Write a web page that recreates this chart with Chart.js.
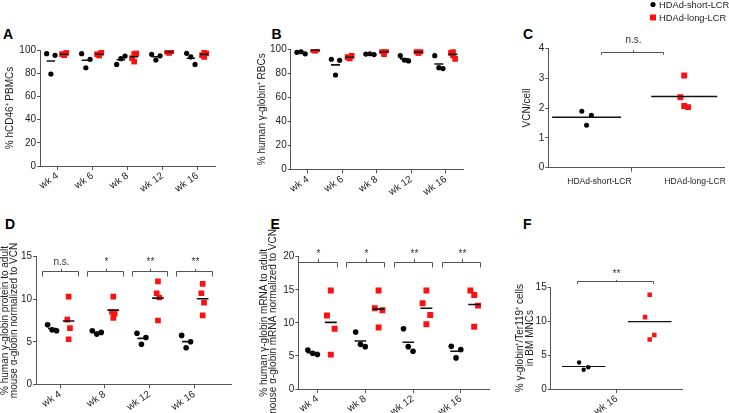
<!DOCTYPE html>
<html>
<head>
<meta charset="utf-8">
<script src="https://cdn.jsdelivr.net/npm/chart.js@4.4.0/dist/chart.umd.min.js"></script>
<style>
body { margin: 0; background: #fff; width: 729px; height: 413px; position: relative; overflow: hidden; font-family: "Liberation Sans", Arial, sans-serif; }
canvas { position: absolute; }
.tag { position: absolute; font: bold 14px "Liberation Sans", Arial, sans-serif; line-height: 1; color: #000; }
</style>
</head>
<body>
<div class="tag" style="left:3px;top:26.5px">A</div>
<div class="tag" style="left:271.5px;top:26.5px">B</div>
<div class="tag" style="left:523px;top:26.5px">C</div>
<div class="tag" style="left:5px;top:216.5px">D</div>
<div class="tag" style="left:270.5px;top:216.5px">E</div>
<div class="tag" style="left:523px;top:216.5px">F</div>
<canvas id="pA"></canvas>
<canvas id="pB"></canvas>
<canvas id="pC"></canvas>
<canvas id="pD"></canvas>
<canvas id="pE"></canvas>
<canvas id="pF"></canvas>
<script>
// categories
const weeks5 = ['wk 4', 'wk 6', 'wk 8', 'wk 12', 'wk 16'];
const weeks4 = ['wk 4', 'wk 8', 'wk 12', 'wk 16'];
const vectors = ['HDAd-short-LCR', 'HDAd-long-LCR'];

// A - % hCD46+ PBMCs (one inner array per week)
const pbmcShort = [[96.8, 95.4, 79.3], [96.8, 92.0, 84.7], [87.6, 94.8, 92.5], [96.3, 95.0, 91.4], [97.1, 87.6, 94.0]];
const pbmcLong = [[95.5, 96.5, 97.5, 95.8], [95.2, 96.4, 97.6, 96.0], [90.0, 93.0, 97.0, 96.5], [97.5, 98.5, 99.0, 98.0], [94.0, 95.5, 97.0, 98.5]];

// B - % human gamma-globin+ RBCs
const rbcShort = [[97.5, 96.2, 98.0], [91.7, 90.8, 78.6], [96.0, 95.6, 96.3], [94.7, 90.3, 91.0], [94.7, 83.9, 84.7]];
const rbcLong = [[99.0, 99.5, 100, 98.8], [92.5, 93.5, 94.5, 92.8], [96.0, 98.5, 99.0, 97.5], [97.0, 98.0, 98.5, 97.2], [99.0, 97.0, 92.0, 95.0]];

// C - VCN/cell
const vcnShort = [1.89, 1.76, 1.42];
const vcnLong = [3.09, 2.36, 2.03, 2.07];

// D - gamma-globin protein
const protShort = [[7.0, 6.3, 6.4], [6.3, 6.1, 5.9], [6.0, 5.5, 4.7], [5.75, 5.0, 4.3]];
const protLong = [[10.3, 7.6, 6.6, 5.3], [10.3, 8.5, 8.3, 7.8], [12.1, 10.7, 10.2, 7.5], [11.8, 10.7, 9.6, 8.1]];

// E - gamma-globin mRNA
const mrnaShort = [[5.9, 5.2, 5.4], [8.6, 6.4, 6.75], [9.1, 5.7, 6.4], [6.45, 5.95, 4.7]];
const mrnaLong = [[14.9, 11.1, 9.1, 5.2], [14.9, 12.2, 11.9, 9.3], [14.9, 12.95, 11.2, 9.8], [14.2, 14.9, 12.6, 9.4]];

// F - gamma-globin+/Ter119+ cells, wk 16
const terShort = [3.9, 3.2, 2.85];
const terLong = [13.9, 10.6, 7.96, 7.3];

// significance marks
const sigC = ['n.s.'];
const sigD = ['n.s.', '*', '**', '**'];
const sigE = ['*', '*', '**', '**'];
const sigF = ['**'];

const FONT = '"Liberation Sans", Arial, sans-serif';
const RED = '#ff1010';
const JIT3 = [-1, 1, 0];
const JIT4 = [0, -1, 1, 0];

function groupPoints(groups, offset, jit, pattern) {
    const pts = [];
    groups.forEach((vals, i) => {
        vals.forEach((v, k) => pts.push({x: i + offset + jit * pattern[k % pattern.length], y: v}));
    });
    return pts;
}

function meanSegments(groups, offset, half) {
    const pts = [];
    groups.forEach((vals, i) => {
        const m = vals.reduce((a, b) => a + b, 0) / vals.length;
        pts.push({x: i + offset - half, y: m}, {x: i + offset + half, y: m}, {x: i, y: null});
    });
    return pts;
}

// brackets with significance text, drawn through the scales
const bracketPlugin = {
    id: 'brackets',
    afterDatasetsDraw(chart, args, opts) {
        if (!opts.items || !opts.items.length) return;
        const {ctx, scales: {x, y}} = chart;
        ctx.save();
        ctx.strokeStyle = '#555';
        ctx.lineWidth = 1;
        ctx.fillStyle = '#333';
        ctx.font = '10px ' + FONT;
        ctx.textAlign = 'center';
        ctx.textBaseline = 'alphabetic';
        opts.items.forEach(b => {
            const x0 = Math.round(x.getPixelForValue(b.from)) + 0.5;
            const x1 = Math.round(x.getPixelForValue(b.to)) + 0.5;
            const xm = Math.round((x0 + x1) / 2) + 0.5;
            const yl = Math.round(y.getPixelForValue(b.y)) + 0.5;
            ctx.beginPath();
            ctx.moveTo(x0, yl + opts.drop);
            ctx.lineTo(x0, yl);
            ctx.lineTo(x1, yl);
            ctx.lineTo(x1, yl + opts.drop);
            ctx.moveTo(xm, yl);
            ctx.lineTo(xm, yl - opts.rise);
            ctx.stroke();
            ctx.fillText(b.text, xm, yl - opts.gap);
        });
        ctx.restore();
    }
};

// legend in the top right corner (panel C canvas)
const cornerLegend = {
    id: 'cornerLegend',
    afterDraw(chart, args, opts) {
        if (!opts.show) return;
        const ctx = chart.ctx;
        ctx.save();
        ctx.font = '9.3px ' + FONT;
        ctx.textBaseline = 'middle';
        ctx.fillStyle = '#000';
        ctx.beginPath();
        ctx.arc(opts.x, opts.y, 2.6, 0, Math.PI * 2);
        ctx.fill();
        ctx.fillStyle = '#222';
        ctx.fillText(vectors[0], opts.x + 6, opts.y + 0.5);
        ctx.fillStyle = RED;
        ctx.fillRect(opts.x - 3, opts.y + opts.step - 3, 6, 6);
        ctx.fillStyle = '#222';
        ctx.fillText(vectors[1], opts.x + 6, opts.y + opts.step + 0.5);
        ctx.restore();
    }
};

// box = canvas [left, top, right, bottom], area = plot area in page pixels
const panels = [
    {id: 'pA', box: [0, 36, 225, 200], area: [40, 50, 215, 166], titlePad: 5.25,
     title: '% hCD46⁺ PBMCs', short: pbmcShort, long: pbmcLong, labels: weeks5, ticks: [0, 1, 2, 3, 4],
     xMin: -0.5, xMax: 4.5, yMax: 100, yStep: 20, offB: -0.19, offR: 0.19, hwB: 0.12, hwR: 0.12,
     jitB: 0.12, jitR: 0.06, rB: 2.6, rR: 4.0, lw: 1.6, rot: 35},
    {id: 'pB', box: [255, 36, 470, 200], area: [290.7, 49.3, 463, 169.3], titlePad: 2.95,
     title: '% human γ-globin⁺ RBCs', short: rbcShort, long: rbcLong, labels: weeks5, ticks: [0, 1, 2, 3, 4],
     xMin: -0.5, xMax: 4.5, yMax: 100, yStep: 20, offB: -0.2, offR: 0.21, hwB: 0.13, hwR: 0.13,
     jitB: 0.12, jitR: 0.06, rB: 2.6, rR: 4.0, lw: 1.6, rot: 35},
    {id: 'pC', box: [515, 0, 729, 200], area: [548.3, 48.3, 729, 167.7], titlePad: 7.55,
     title: 'VCN/cell', short: [vcnShort], long: [vcnLong], labels: [vectors[0], '', vectors[1]], ticks: [0, 0.44, 1],
     xMin: -0.43, xMax: 1.414, yMax: 4, yStep: 1, offB: -0.03, offR: 0.99, hwB: 0.36, hwR: 0.345,
     jitB: 0.05, jitR: 0.04, rB: 2.5, rR: 4.2, lw: 1.5, rot: 0, labelOffset: 10, labelFont: 8.5,
     hideTick: [true, false, true],
     brackets: {items: [{from: 0.12, to: 0.77, y: 3.89, text: sigC[0]}], drop: 2.3, rise: 2.4, gap: 10},
     legend: {show: true, x: 138, y: 4.5, step: 13}},
    {id: 'pD', box: [0, 226, 240, 413], area: [36, 256.7, 231.7, 384.3], titlePad: 0,
     title: ['% human γ-globin protein to adult', 'mouse α-globin normalized to VCN'],
     short: protShort, long: protLong, labels: weeks4, ticks: [0, 1, 2, 3],
     xMin: -0.54, xMax: 3.84, yMax: 15, yStep: 5, offB: -0.18, offR: 0.19, hwB: 0.09, hwR: 0.13,
     jitB: 0.1, jitR: 0.03, rB: 2.8, rR: 4.0, lw: 1.6, rot: 35,
     brackets: {items: weeks4.map((w, i) => ({from: i - 0.4, to: i + 0.4, y: 13.3, text: sigD[i]})), drop: 5, rise: 2.7, gap: 7}},
    {id: 'pE', box: [255, 226, 495, 413], area: [298.3, 256.7, 489.5, 389], titlePad: 4.25,
     title: ['% human γ-globin mRNA to adult', 'mouse α-globin mRNA normalized to VCN'],
     short: mrnaShort, long: mrnaLong, labels: weeks4, ticks: [0, 1, 2, 3],
     xMin: -0.4, xMax: 3.6, yMax: 20, yStep: 5, offB: -0.1, offR: 0.28, hwB: 0.12, hwR: 0.125,
     jitB: 0.1, jitR: 0.08, rB: 2.8, rR: 4.2, lw: 1.6, rot: 35,
     brackets: {items: weeks4.map((w, i) => ({from: i - 0.4, to: i + 0.4, y: 19.25, text: sigE[i]})), drop: 5, rise: 3.4, gap: 6}},
    {id: 'pF', box: [510, 226, 729, 413], area: [550.7, 287.3, 682.7, 389], titlePad: 5.95,
     title: ['% γ-globin⁺/Ter119⁺ cells', 'in BM MNCs'],
     short: [terShort], long: [terLong], labels: ['wk 16'], ticks: [0],
     xMin: -1, xMax: 1, yMax: 15, yStep: 5, offB: -0.5, offR: 0.5, hwB: 0.33, hwR: 0.33,
     jitB: 0.07, jitR: 0.07, rB: 2.2, rR: 3.2, lw: 1.2, rot: 35,
     brackets: {items: [{from: -0.6, to: 0.55, y: 16.0, text: sigF[0]}], drop: 2.4, rise: 1.6, gap: 5}}
];

panels.forEach(p => {
    const [bl, bt, br, bb] = p.box;
    const [al, at, ar, ab] = p.area;
    const cv = document.getElementById(p.id);
    cv.width = br - bl;
    cv.height = bb - bt;
    cv.style.left = bl + 'px';
    cv.style.top = bt + 'px';

    new Chart(cv, {
        type: 'scatter',
        data: {
            datasets: [
                {data: meanSegments(p.short, p.offB, p.hwB), showLine: true, spanGaps: false,
                 borderColor: '#111', borderWidth: p.lw, pointRadius: 0},
                {data: meanSegments(p.long, p.offR, p.hwR), showLine: true, spanGaps: false,
                 borderColor: '#111', borderWidth: p.lw, pointRadius: 0},
                {label: vectors[0], data: groupPoints(p.short, p.offB, p.jitB, JIT3),
                 pointStyle: 'circle', pointRadius: p.rB, backgroundColor: '#000', borderWidth: 0},
                {label: vectors[1], data: groupPoints(p.long, p.offR, p.jitR, JIT4),
                 pointStyle: 'rect', pointRadius: p.rR, backgroundColor: RED, borderWidth: 0}
            ]
        },
        options: {
            responsive: false,
            animation: false,
            events: [],
            layout: {padding: {left: 0, top: at - bt, right: br - ar, bottom: 0}},
            plugins: {
                legend: {display: false},
                tooltip: {enabled: false},
                brackets: p.brackets || {},
                cornerLegend: p.legend || {}
            },
            scales: {
                x: {
                    type: 'linear',
                    min: p.xMin,
                    max: p.xMax,
                    afterFit: s => { s.height = bb - ab; },
                    afterBuildTicks: s => { s.ticks = p.ticks.map(v => ({value: v})); },
                    ticks: {
                        autoSkip: false,
                        minRotation: p.rot,
                        maxRotation: p.rot,
                        padding: p.rot ? 0 : 5,
                        labelOffset: p.labelOffset || 0,
                        color: '#222',
                        font: {family: FONT, size: p.labelFont || 10},
                        callback: (v, i) => p.labels[i]
                    },
                    grid: {
                        drawOnChartArea: false,
                        tickLength: 4,
                        color: ctx => (p.hideTick && p.hideTick[ctx.index]) ? 'rgba(0,0,0,0)' : '#555'
                    },
                    border: {color: '#555', width: 1}
                },
                y: {
                    min: 0,
                    max: p.yMax,
                    afterFit: s => { s.width = al - bl; },
                    ticks: {stepSize: p.yStep, padding: 1, color: '#222', font: {family: FONT, size: 10}},
                    grid: {drawOnChartArea: false, tickLength: 3, color: '#555'},
                    border: {color: '#555', width: 1},
                    title: {
                        display: true,
                        text: p.title,
                        color: '#222',
                        padding: {top: p.titlePad, bottom: 0},
                        font: {family: FONT, size: 10, lineHeight: 0.95}
                    }
                }
            }
        },
        plugins: [bracketPlugin, cornerLegend]
    });
});
</script>
</body>
</html>
